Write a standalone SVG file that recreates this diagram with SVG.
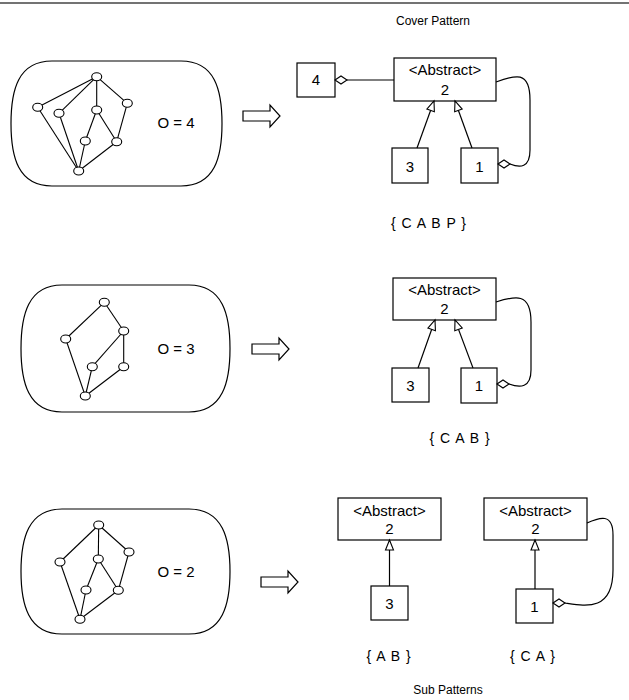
<svg xmlns="http://www.w3.org/2000/svg" width="629" height="700" viewBox="0 0 629 700">
<style>
text{font-family:"Liberation Sans",Arial,sans-serif;fill:#000;text-anchor:middle}
.t{font-size:15px}
.s{font-size:12px}
.set{font-size:14px;letter-spacing:1px}
.box{fill:#fff;stroke:#000;stroke-width:1.2}
.panel{fill:#fff;stroke:#000;stroke-width:1.2}
.g line{stroke:#000;stroke-width:1.1}
.g ellipse{fill:#fff;stroke:#000;stroke-width:1.1}
.con{fill:none;stroke:#000;stroke-width:1.2}
.blk{fill:#fff;stroke:#000;stroke-width:1.2}
</style>
<defs>
<marker id="tri" viewBox="0 0 10 8" refX="10" refY="4" markerWidth="10" markerHeight="8" markerUnits="userSpaceOnUse" orient="auto" overflow="visible">
<path d="M0,0 L10,4 L0,8 Z" fill="#fff" stroke="#000" stroke-width="1.1"/>
</marker>
<marker id="dia" viewBox="0 0 12 8" refX="0" refY="4" markerWidth="12" markerHeight="8" markerUnits="userSpaceOnUse" orient="auto" overflow="visible">
<path d="M0,4 L6,0 L12,4 L6,8 Z" fill="#fff" stroke="#000" stroke-width="1.1"/>
</marker>
<path id="blockArrow" d="M0,-5 H27 V-11 L37,0 L27,11 V5 H0 Z"/>
</defs>
<line x1="0" y1="3" x2="629" y2="3" stroke="#444" stroke-width="1.5"/>
<text class="s" x="433" y="25">Cover Pattern</text>
<text class="s" x="448" y="694">Sub Patterns</text>

<!-- Row 1 -->
<g id="panel1">
<path class="panel" d="M52,61 H181 C215,61 222,90 222,123.5 C222,157 215,186 181,186 H52 C18,186 11,157 11,123.5 C11,90 18,61 52,61 Z"/>
<g class="g">
<line x1="96.7" y1="76.7" x2="37.7" y2="107.3"/>
<line x1="96.7" y1="76.7" x2="59" y2="113.3"/>
<line x1="96.7" y1="76.7" x2="96.7" y2="110"/>
<line x1="96.7" y1="76.7" x2="127.3" y2="103.3"/>
<line x1="37.7" y1="107.3" x2="78.7" y2="171"/>
<line x1="59" y1="113.3" x2="78.7" y2="171"/>
<line x1="96.7" y1="110" x2="85.3" y2="141"/>
<line x1="96.7" y1="110" x2="116.7" y2="141.7"/>
<line x1="127.3" y1="103.3" x2="116.7" y2="141.7"/>
<line x1="85.3" y1="141" x2="78.7" y2="171"/>
<line x1="116.7" y1="141.7" x2="78.7" y2="171"/>
<ellipse cx="96.7" cy="76.7" rx="5" ry="4"/>
<ellipse cx="37.7" cy="107.3" rx="5" ry="4"/>
<ellipse cx="59" cy="113.3" rx="5" ry="4"/>
<ellipse cx="96.7" cy="110" rx="5" ry="4"/>
<ellipse cx="127.3" cy="103.3" rx="5" ry="4"/>
<ellipse cx="85.3" cy="141" rx="5" ry="4"/>
<ellipse cx="116.7" cy="141.7" rx="5" ry="4"/>
<ellipse cx="78.7" cy="171" rx="5" ry="4"/>
</g>
<text class="t" x="176" y="128">O = 4</text>
</g>
<g id="arrow1"><use href="#blockArrow" class="blk" x="243" y="116"/></g>
<g id="r1-box4"><rect class="box" x="297" y="63" width="38" height="34"/><text class="t" x="316" y="85">4</text></g>
<g id="r1-abstract"><rect class="box" x="394" y="58" width="102" height="43"/><text class="t" x="445" y="75">&lt;Abstract&gt;</text><text class="t" x="445" y="94.5">2</text></g>
<g id="r1-box3"><rect class="box" x="392" y="148" width="36" height="35"/><text class="t" x="410" y="171.5">3</text></g>
<g id="r1-box1"><rect class="box" x="461" y="148" width="37" height="35"/><text class="t" x="479.5" y="171.5">1</text></g>
<text class="set" x="429" y="228">{ C A B P }</text>

<!-- Row 2 -->
<g id="panel2">
<path class="panel" d="M62,285 H189 C223,285 230,315 230,348.5 C230,382 223,412 189,412 H62 C28,412 21,382 21,348.5 C21,315 28,285 62,285 Z"/>
<g class="g">
<line x1="104.3" y1="302.3" x2="65.7" y2="339"/>
<line x1="104.3" y1="302.3" x2="123.7" y2="331"/>
<line x1="123.7" y1="331" x2="92.3" y2="366.7"/>
<line x1="123.7" y1="331" x2="123.7" y2="366.7"/>
<line x1="65.7" y1="339" x2="85.3" y2="396"/>
<line x1="92.3" y1="366.7" x2="85.3" y2="396"/>
<line x1="123.7" y1="366.7" x2="85.3" y2="396"/>
<ellipse cx="104.3" cy="302.3" rx="5" ry="4"/>
<ellipse cx="65.7" cy="339" rx="5" ry="4"/>
<ellipse cx="123.7" cy="331" rx="5" ry="4"/>
<ellipse cx="92.3" cy="366.7" rx="5" ry="4"/>
<ellipse cx="123.7" cy="366.7" rx="5" ry="4"/>
<ellipse cx="85.3" cy="396" rx="5" ry="4"/>
</g>
<text class="t" x="176" y="354">O = 3</text>
</g>
<g id="arrow2"><use href="#blockArrow" class="blk" x="252" y="349"/></g>
<g id="r2-abstract"><rect class="box" x="393" y="278" width="103" height="42"/><text class="t" x="444.5" y="295">&lt;Abstract&gt;</text><text class="t" x="444.5" y="314">2</text></g>
<g id="r2-box3"><rect class="box" x="392" y="368" width="37" height="34"/><text class="t" x="410.5" y="391">3</text></g>
<g id="r2-box1"><rect class="box" x="461" y="368" width="36" height="35"/><text class="t" x="479" y="391">1</text></g>
<text class="set" x="460" y="443">{ C A B }</text>

<!-- Row 3 -->
<g id="panel3">
<path class="panel" d="M62,509 H189 C223,509 230,539 230,571.5 C230,604 223,634 189,634 H62 C28,634 21,604 21,571.5 C21,539 28,509 62,509 Z"/>
<g class="g">
<line x1="98.7" y1="525" x2="60" y2="562"/>
<line x1="98.7" y1="525" x2="98.3" y2="559"/>
<line x1="98.7" y1="525" x2="129" y2="552"/>
<line x1="60" y1="562" x2="80" y2="619.3"/>
<line x1="98.3" y1="559" x2="86" y2="590"/>
<line x1="98.3" y1="559" x2="118.3" y2="590.3"/>
<line x1="129" y1="552" x2="118.3" y2="590.3"/>
<line x1="86" y1="590" x2="80" y2="619.3"/>
<line x1="118.3" y1="590.3" x2="80" y2="619.3"/>
<ellipse cx="98.7" cy="525" rx="5" ry="4"/>
<ellipse cx="60" cy="562" rx="5" ry="4"/>
<ellipse cx="129" cy="552" rx="5" ry="4"/>
<ellipse cx="98.3" cy="559" rx="5" ry="4"/>
<ellipse cx="86" cy="590" rx="5" ry="4"/>
<ellipse cx="118.3" cy="590.3" rx="5" ry="4"/>
<ellipse cx="80" cy="619.3" rx="5" ry="4"/>
</g>
<text class="t" x="176" y="577">O = 2</text>
</g>
<g id="arrow3"><use href="#blockArrow" class="blk" x="261" y="582"/></g>
<g id="r3a-abstract"><rect class="box" x="338" y="498" width="103" height="42"/><text class="t" x="389.5" y="516">&lt;Abstract&gt;</text><text class="t" x="389.5" y="534">2</text></g>
<g id="r3a-box3"><rect class="box" x="371" y="586" width="37" height="34"/><text class="t" x="389.5" y="608.5">3</text></g>
<g id="r3b-abstract"><rect class="box" x="484" y="498" width="103" height="42"/><text class="t" x="535.5" y="516">&lt;Abstract&gt;</text><text class="t" x="535.5" y="534">2</text></g>
<g id="r3b-box1"><rect class="box" x="516" y="589" width="37" height="34"/><text class="t" x="534.5" y="611.5">1</text></g>
<text class="set" x="389" y="661">{ A B }</text>
<text class="set" x="533" y="661">{ C A }</text>

<g id="connectors">
<path class="con" d="M335,80 L394,80" marker-start="url(#dia)"/>
<path class="con" d="M417,148 L434,101" marker-end="url(#tri)"/>
<path class="con" d="M472,148 L455,101" marker-end="url(#tri)"/>
<path class="con" d="M498,164 L510,164 C520,168 530,168 530,150 L530,100 C530,70 515,75 496,82" marker-start="url(#dia)"/>
<path class="con" d="M418,368 L435,320" marker-end="url(#tri)"/>
<path class="con" d="M473,368 L455,320" marker-end="url(#tri)"/>
<path class="con" d="M497,384 L509,384 C520,388 531,388 531,370 L531,322 C531,292 515,296 496,302" marker-start="url(#dia)"/>
<path class="con" d="M389.5,586 L389.5,540" marker-end="url(#tri)"/>
<path class="con" d="M535,589 L535,540" marker-end="url(#tri)"/>
<path class="con" d="M553,603 L565,603 C585,606 613,612 613,570 L613,535 C613,513 600,517 587,523" marker-start="url(#dia)"/>
</g>
</svg>
